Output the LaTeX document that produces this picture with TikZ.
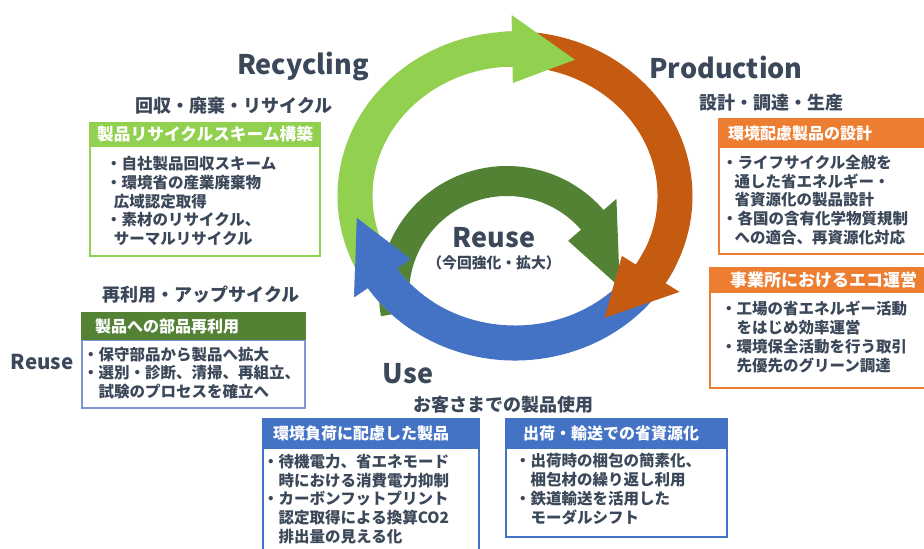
\documentclass[tikz,border=0pt]{standalone}
\usepackage{fontspec}
\setmainfont{Noto Sans CJK JP}
\definecolor{txtgray}{RGB}{59,72,89}
\definecolor{lgreen}{RGB}{146,208,80}
\definecolor{dgreen}{RGB}{84,130,53}
\definecolor{rorange}{RGB}{197,90,17}
\definecolor{borange}{RGB}{237,125,49}
\definecolor{rblue}{RGB}{68,114,196}
\definecolor{lblue}{RGB}{125,152,208}
\begin{document}
\begin{tikzpicture}[x=1pt,y=1pt]
\tikzstyle{every node}+=[inner sep=0pt, text=txtgray]
\tikzstyle{stage}=[font=\fontsize{27}{30}\selectfont\bfseries]
\tikzstyle{sub}=[font=\fontsize{18}{20}\selectfont\bfseries]
\tikzstyle{head}=[anchor=west, text=white, font=\fontsize{16}{18}\selectfont\bfseries]
\tikzstyle{body}=[anchor=west, align=left, font=\fontsize{15.5}{18.8}\selectfont\bfseries]
\useasboundingbox (0,0) rectangle (924,549);
\clip (0,0) rectangle (924,549);

% inner reuse arrow
\begin{scope}[shift={(507,255)}]
\fill [dgreen] (190:128) arc [start angle=190, end angle=41, radius=128] -- (41:145) -- (3.5:113)
  -- (41:81) -- (41:98) arc [start angle=41, end angle=190, radius=98] -- cycle;
\end{scope}

% outer cycle: use, production, recycling
\begin{scope}[shift={(515,353)}]
\fill [rblue] (-25:177.5 and 164.5) arc [start angle=-25, end angle=-146, x radius=177.5, y radius=164.5]
  -- (-146:194 and 181) -- (-171.5:160 and 147) -- (-146:126 and 113) -- (-146:142.5 and 129.5)
  arc [start angle=-146, end angle=-25, x radius=142.5, y radius=129.5] -- cycle;
\fill [rorange] (95:177.5 and 164.5) arc [start angle=95, end angle=-32, x radius=177.5, y radius=164.5]
  -- (-32:194 and 181) -- (-56:160 and 147) -- (-32:126 and 113) -- (-32:142.5 and 129.5)
  arc [start angle=-32, end angle=95, x radius=142.5, y radius=129.5] -- cycle;
\fill [lgreen] (225:177.5 and 164.5) arc [start angle=225, end angle=91, x radius=177.5, y radius=164.5]
  -- (91:194 and 181) -- (68:160 and 147) -- (91:126 and 113) -- (91:142.5 and 129.5)
  arc [start angle=91, end angle=225, x radius=142.5, y radius=129.5] -- cycle;
% blue head once more, over the green tail
\fill [rblue] (235:177.5 and 164.5) arc [start angle=235, end angle=214, x radius=177.5, y radius=164.5]
  -- (214:194 and 181) -- (188.5:160 and 147) -- (214:126 and 113) -- (214:142.5 and 129.5)
  arc [start angle=214, end angle=235, x radius=142.5, y radius=129.5] -- cycle;
\end{scope}

\node (recyTitle) [stage] at (303,482) {Recycling};
\node (prodTitle) [stage] at (726,482) {Production};
\node (useTitle) [stage] at (408,175) {Use};
\node (reuseTitle) [stage] at (494,311) {Reuse};
\node (reuseNote) [font=\fontsize{14.8}{16}\selectfont\bfseries] at (494,286) {（今回強化・拡大）};
\node (reuseSide) [font=\fontsize{20.5}{23}\selectfont\bfseries] at (42,187) {Reuse};

\node (recySub) [sub] at (234,443) {回収・廃棄・リサイクル};
\node (prodSub) [sub] at (771,446) {設計・調達・生産};
\node (reuseSub) [sub] at (201,254) {再利用・アップサイクル};
\node (useSub) [sub] at (503,144) {お客さまでの製品使用};

% recycling box
\draw [lgreen, line width=1.5] (90,403) rectangle (320,293);
\fill [lgreen] (89.25,427) rectangle (320.75,403);
\node (recyHead) [head, font=\fontsize{16.7}{18}\selectfont\bfseries] at (97,415) {製品リサイクルスキーム構築};
\node (recyList) [body] at (106,348) {・自社製品回収スキーム\\・環境省の産業廃棄物\\\hspace*{0.5em}広域認定取得\\・素材のリサイクル、\\\hspace*{0.5em}サーマルリサイクル};

% production boxes
\draw [borange, line width=1.5] (719,402) rectangle (940,295);
\fill [borange] (718.25,431) rectangle (940,402);
\node (designHead) [head] at (728,416) {環境配慮製品の設計};
\node (designList) [body] at (722,349) {・ライフサイクル全般を\\\hspace*{0.8em}通した省エネルギー・\\\hspace*{0.8em}省資源化の製品設計\\・各国の含有化学物質規制\\\hspace*{0.8em}への適合、再資源化対応};
\draw [borange, line width=1.5] (710,257) rectangle (940,161);
\fill [borange] (709.25,282) rectangle (940,257);
\node (siteHead) [head, font=\fontsize{17}{18}\selectfont\bfseries] at (730,269) {事業所におけるエコ運営};
\node (siteList) [body] at (721,212) {・工場の省エネルギー活動\\\hspace*{1em}をはじめ効率運営\\・環境保全活動を行う取引\\\hspace*{1em}先優先のグリーン調達};

% reuse box
\draw [lblue, line width=1.5] (82,209) rectangle (305,141);
\fill [dgreen] (81.25,237) rectangle (305.75,209);
\node (partsHead) [head] at (95,223) {製品への部品再利用};
\node (partsList) [body] at (83,176) {・保守部品から製品へ拡大\\・選別・診断、清掃、再組立、\\\hspace*{1em}試験のプロセスを確立へ};

% use boxes
\draw [rblue, line width=1.5] (263,101) rectangle (479,-11);
\fill [rblue] (262.25,131) rectangle (479.75,101);
\node (ecoHead) [head] at (273,116) {環境負荷に配慮した製品};
\node (ecoList) [body] at (263,50) {・待機電力、省エネモード\\\hspace*{1em}時における消費電力抑制\\・カーボンフットプリント\\\hspace*{1em}認定取得による換算CO2\\\hspace*{1em}排出量の見える化};
\draw [rblue, line width=1.5] (506,101) rectangle (727,12);
\fill [rblue] (505.25,131) rectangle (727.75,101);
\node (shipHead) [head] at (523,116) {出荷・輸送での省資源化};
\node (shipList) [body] at (515,60) {・出荷時の梱包の簡素化、\\\hspace*{1em}梱包材の繰り返し利用\\・鉄道輸送を活用した\\\hspace*{1em}モーダルシフト};
\end{tikzpicture}
\end{document}
